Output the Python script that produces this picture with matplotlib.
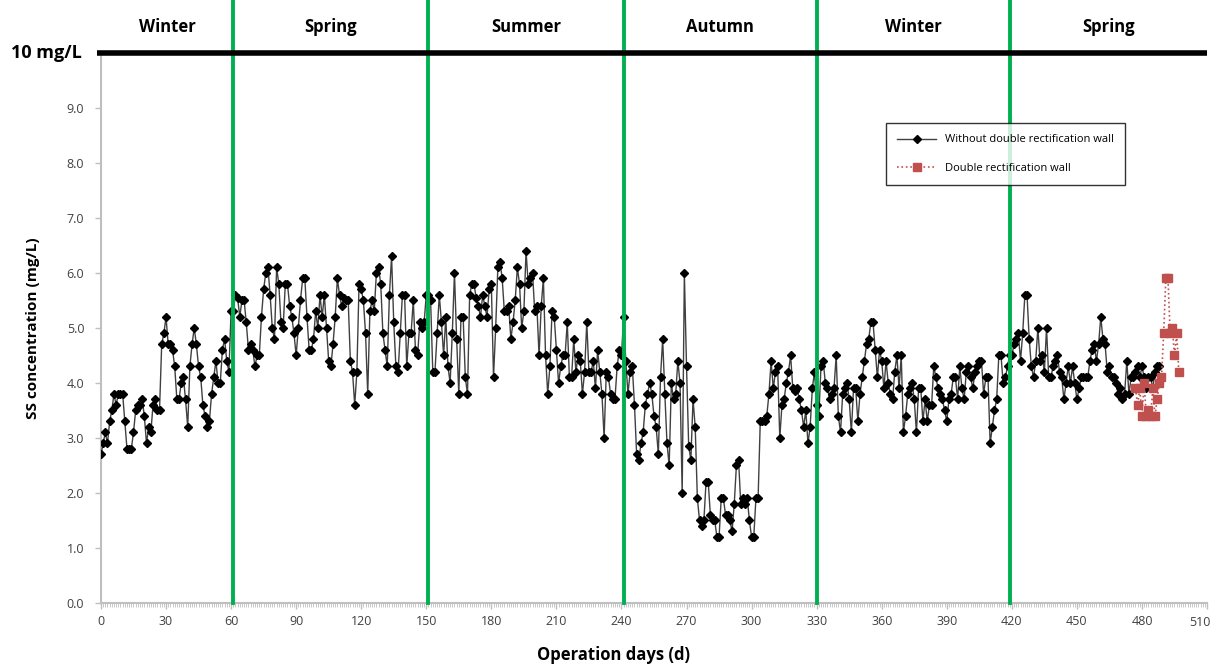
import numpy as np
import matplotlib
matplotlib.use('Agg')
import matplotlib.pyplot as plt
import matplotlib.transforms as mtransforms
from matplotlib.ticker import MultipleLocator, FormatStrFormatter, FuncFormatter

plt.rcParams['font.family'] = ['Open Sans', 'DejaVu Sans']

# SS concentration without double rectification wall, one value per day, split by season
winter1 = [2.7, 2.9, 3.1, 2.9, 3.3, 3.5, 3.8, 3.6, 3.8, 3.8, 3.8, 3.3, 2.8, 2.8, 2.8, 3.1, 3.5, 3.6, 3.6, 3.7,
           3.4, 2.9, 3.2, 3.1, 3.6, 3.7, 3.5, 3.5, 4.7, 4.9, 5.2, 4.7, 4.7, 4.6, 4.3, 3.7, 3.7, 4.0, 4.1, 3.7,
           3.2, 4.3, 4.7, 5.0, 4.7, 4.3, 4.1, 3.6, 3.4, 3.2, 3.3, 3.8, 4.1, 4.4, 4.0, 4.0, 4.6, 4.8, 4.4, 4.2,
           5.3]
spring1 = [5.3, 5.6, 5.55, 5.2, 5.5, 5.5, 5.1, 4.6, 4.7, 4.6, 4.3, 4.5, 4.5, 5.2, 5.7, 6.0, 6.1, 5.6, 5.0, 4.8,
           6.1, 5.8, 5.1, 5.0, 5.8, 5.8, 5.4, 5.2, 4.9, 4.5, 5.0, 5.5, 5.9, 5.9, 5.2, 4.6, 4.6, 4.8, 5.3, 5.0,
           5.6, 5.2, 5.6, 5.0, 4.4, 4.3, 4.7, 5.2, 5.9, 5.6, 5.4, 5.55, 5.5, 5.5, 4.4, 4.2, 3.6, 4.2, 5.8, 5.7,
           5.5, 4.9, 3.8,
           5.3, 5.5, 5.3, 6.0, 6.1, 5.8, 4.9, 4.6, 4.3, 5.6, 6.3, 5.1, 4.3, 4.2, 4.9, 5.6, 5.6, 4.3, 4.9, 4.9,
           5.5, 4.6, 4.5, 5.1, 5.0, 5.1, 5.6]
summer = [5.6, 5.5, 4.2, 4.2, 4.9, 5.6, 5.1, 4.5, 5.2, 4.3, 4.0, 4.9, 6.0, 4.8, 3.8, 5.2, 5.2, 4.1, 3.8, 5.6,
          5.8, 5.8, 5.55, 5.4, 5.2, 5.6, 5.4, 5.2, 5.7, 5.8, 4.1, 5.0, 6.1, 6.2,
          5.9, 5.3, 5.3, 5.4, 4.8, 5.1, 5.5, 6.1, 5.8, 5.0, 5.3, 6.4, 5.8, 5.9, 6.0, 5.3, 5.4, 4.5, 5.4, 5.9,
          4.5, 3.8, 4.3, 5.3, 5.2, 4.6, 4.0, 4.3, 4.5, 4.5, 5.1, 4.1, 4.1, 4.8, 4.2, 4.5, 4.4, 3.8, 4.2, 5.1,
          4.2, 4.2, 4.4, 3.9, 4.6, 4.2, 3.8, 3.0, 4.2, 4.1, 3.8, 3.7, 3.7, 4.3, 4.6, 4.5]
autumn = [5.2, 4.4, 3.8, 4.2, 4.3, 3.6, 2.7, 2.6, 2.9, 3.1, 3.6, 3.8, 4.0, 3.8, 3.4, 3.2, 2.7, 4.1, 4.8, 3.8,
          2.9, 2.5, 4.0, 3.7, 3.8, 4.4, 4.0, 2.0, 6.0, 4.3, 2.85, 2.6, 3.7, 3.2, 1.9, 1.5, 1.4, 1.5, 2.2, 2.2,
          1.6, 1.5, 1.5, 1.2, 1.2, 1.9, 1.9, 1.6, 1.6, 1.5, 1.3, 1.8, 2.5,
          2.6, 1.8, 1.9, 1.8, 1.9, 1.5, 1.2, 1.2, 1.9, 1.9, 3.3, 3.3, 3.3, 3.4,
          3.8, 4.4, 3.9, 4.2, 4.3, 3.0, 3.6, 3.7, 4.0, 4.2, 4.5, 3.9, 3.85, 3.9, 3.7, 3.5, 3.2, 3.5, 2.9, 3.2,
          3.9, 4.2]
winter2 = [3.6, 3.4, 4.3, 4.4, 4.0, 3.9, 3.7, 3.8, 3.9, 4.5, 3.4, 3.1, 3.8, 3.9, 4.0, 3.7, 3.1, 3.9, 3.9, 3.3,
           3.8, 4.1, 4.4, 4.7, 4.8, 5.1,
           5.1, 4.6, 4.1, 4.6, 4.4, 3.9, 4.4, 4.0, 3.8, 3.7, 4.2, 4.5, 3.9, 4.5, 3.1, 3.4, 3.8, 3.9, 4.0, 3.7,
           3.1, 3.9, 3.9, 3.3, 3.7, 3.3, 3.6, 3.6, 4.3, 4.1, 3.9, 3.8, 3.7, 3.5, 3.3, 3.7, 3.8, 4.1, 4.1, 3.7,
           4.3, 3.9, 3.7, 4.2, 4.3, 4.1, 3.9, 4.2, 4.3, 4.4, 4.4, 3.8, 4.1, 4.1, 2.9, 3.2, 3.5, 3.7, 4.5, 4.5,
           4.0, 4.1]
spring2 = [4.3, 4.5, 4.5, 4.7, 4.8, 4.9, 4.4, 4.9, 5.6, 5.6, 4.8, 4.3, 4.1, 4.4, 5.0, 4.4, 4.5, 4.2, 5.0, 4.1,
           4.1, 4.3, 4.4, 4.5, 4.2, 4.1, 3.7, 4.0, 4.3, 4.0, 4.3, 4.0, 3.7, 3.9, 4.1, 4.1, 4.1, 4.1, 4.4, 4.6,
           4.7, 4.4, 4.7, 5.2, 4.8, 4.7, 4.2, 4.3, 4.1, 4.1, 4.0, 3.8, 3.9, 3.7, 3.8, 4.4, 3.8, 4.1, 4.1, 4.2,
           4.3, 4.1, 4.3, 4.1, 3.9, 4.1, 4.1, 3.9, 4.2, 4.3, 4.3]

# with double rectification wall
days_wall = [477, 478, 479, 480, 481, 482, 483, 484, 485, 486, 487, 488, 489, 490, 491, 492, 493, 494, 495, 496, 497]
ss_wall = [3.9, 3.6, 3.9, 3.4, 4.0, 3.4, 3.5, 3.4, 3.9, 3.4, 3.7, 4.0, 4.1, 4.9, 5.9, 5.9, 4.9, 5.0, 4.5, 4.9, 4.2]

season_edges = [0, 61, 151, 241, 330, 419, 510]
season_names = ['Winter', 'Spring', 'Summer', 'Autumn', 'Winter', 'Spring']
x_max = 510

ss_without = winter1 + spring1 + summer + autumn + winter2 + spring2
days = np.arange(len(ss_without))

fig = plt.figure(figsize=(12.12, 6.64), dpi=100)
ax = fig.add_axes([0.0833, 0.0919, 0.9126, 0.8283])

ax.plot(days, ss_without, color='#404040', lw=1.0, marker='D', markersize=4.5,
        markerfacecolor='black', markeredgecolor='black', label='Without double rectification wall', zorder=3)
ax.plot(days_wall, ss_wall, color='#c0504d', lw=1.2, ls=':', marker='s', markersize=6,
        markerfacecolor='#c0504d', markeredgecolor='#c0504d', label='Double rectification wall', zorder=4)

# season boundaries
for x in season_edges[1:-1]:
    ax.axvline(x, ymin=0, ymax=1.096, color='#00b050', lw=2.8, clip_on=False, zorder=5)
for i, name in enumerate(season_names):
    mid = (season_edges[i] + season_edges[i + 1]) / 2
    ax.text(mid, 10.47, name, ha='center', va='center', fontsize=12, fontweight='bold', clip_on=False)

# 10 mg/L limit
ax.plot([-2, x_max], [10, 10], color='black', lw=4, clip_on=False, zorder=6, solid_capstyle='butt')
ax.text(-0.017, 10, '10 mg/L', transform=ax.get_yaxis_transform(), ha='right', va='center',
        fontsize=13, fontweight='bold')

ax.set_xlim(0, x_max)
ax.set_ylim(0, 10)
ax.xaxis.set_major_locator(MultipleLocator(30))
ax.xaxis.set_minor_locator(MultipleLocator(1))
# the last label is drawn separately so it stays inside the canvas
ax.xaxis.set_major_formatter(FuncFormatter(lambda v, p: '' if v >= x_max else '%d' % v))
ax.yaxis.set_major_formatter(FormatStrFormatter('%.1f'))
ax.set_yticks(np.arange(0, 10, 1.0))

for s in ['top', 'right']:
    ax.spines[s].set_visible(False)
for s in ['left', 'bottom']:
    ax.spines[s].set_color('#bfbfbf')
    ax.spines[s].set_linewidth(1.5)
ax.tick_params(axis='both', which='major', colors='#bfbfbf', labelcolor='#404040', labelsize=9, length=4, width=1)
ax.tick_params(axis='x', which='minor', colors='#bfbfbf', length=3, width=0.6)
ax.tick_params(axis='x', which='major', pad=5)
ax.tick_params(axis='y', which='major', pad=8)

off = mtransforms.ScaledTranslation(4 / 100, -13 / 100, fig.dpi_scale_trans)
ax.text(x_max, 0, '%d' % x_max, transform=ax.get_xaxis_transform() + off, ha='right', va='top',
        fontsize=9, color='#404040')

ax.set_xlabel('Operation days (d)', fontsize=12, fontweight='bold')
ax.set_ylabel('SS concentration (mg/L)', fontsize=11, fontweight='bold')
ax.xaxis.set_label_coords(0.463, -0.078)
ax.yaxis.set_label_coords(-0.055, 0.5)

leg = ax.legend(loc='upper left', bbox_to_anchor=(0.71, 0.872), fontsize=8, frameon=True, fancybox=False,
                labelspacing=1.6, handlelength=3.5, borderpad=1.0, borderaxespad=0)
leg.get_frame().set_edgecolor('black')
leg.get_frame().set_linewidth(1.0)
leg.set_zorder(7)

plt.savefig('out.png', dpi=100)
